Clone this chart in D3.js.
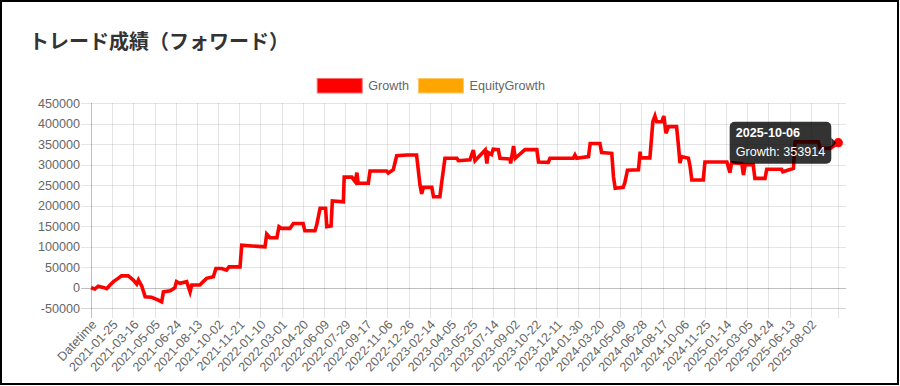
<!DOCTYPE html>
<html>
<head>
<meta charset="utf-8">
<script src="https://cdn.jsdelivr.net/npm/d3@7/dist/d3.min.js"></script>
<style>
    body { margin: 0; background: #fff; }
    svg { display: block; font-family: "Liberation Sans", Arial, sans-serif; }
    .title { font-family: "Noto Sans CJK JP", sans-serif; font-weight: bold; font-size: 20px; fill: #333; }
    .tick-label { font-size: 12.6px; fill: #666; }
    .legend-label { font-size: 12.6px; fill: #666; }
</style>
</head>
<body>
<svg id="chart" width="900" height="386"></svg>
<script>

var chartTitle = 'トレード成績（フォワード）';

// x labels shown by the chart (every 50th category)
var tickLabels = ['Datetime', '2021-01-25', '2021-03-16', '2021-05-05', '2021-06-24', '2021-08-13',
    '2021-10-02', '2021-11-21', '2022-01-10', '2022-03-01', '2022-04-20', '2022-06-09', '2022-07-29',
    '2022-09-17', '2022-11-06', '2022-12-26', '2023-02-14', '2023-04-05', '2023-05-25', '2023-07-14',
    '2023-09-02', '2023-10-22', '2023-12-11', '2024-01-30', '2024-03-20', '2024-05-09', '2024-06-28',
    '2024-08-17', '2024-10-06', '2024-11-25', '2025-01-14', '2025-03-05', '2025-04-24', '2025-06-13',
    '2025-08-02'];
var labelEvery = 50;

var yTicks = [-50000, 0, 50000, 100000, 150000, 200000, 250000, 300000, 350000, 400000, 450000];

var seriesNames = ['Growth', 'EquityGrowth'];
var seriesColors = ['#ff0000', '#ffa500'];

// category index of each sampled point, and the Growth value there
var pointIdx = [0, 9, 17, 29, 37, 45, 53, 64, 72, 88, 100, 108, 112, 120, 128, 143, 155, 167, 171, 187,
    198, 202, 210, 226, 234, 238, 257, 265, 273, 289, 295, 309, 320, 326, 352, 356, 380, 411, 415, 423,
    439, 444, 450, 470, 478, 501, 505, 529, 533, 541, 554, 557, 567, 570, 596, 598, 616, 624, 628, 631,
    655, 659, 698, 702, 714, 722, 746, 769, 777, 781, 785, 805, 809, 824, 828, 836, 864, 868, 895, 903,
    907, 931, 935, 938, 946, 950, 962, 966, 990, 991, 998, 1002, 1025, 1053, 1057, 1080, 1084, 1139, 1143, 1147,
    1175, 1179, 1202, 1206, 1230, 1234, 1238, 1257, 1261, 1267, 1293, 1297, 1298, 1320, 1327, 1332, 1336, 1348,
    1353, 1358, 1364, 1383, 1387, 1391, 1395, 1411, 1415, 1419, 1446, 1450, 1502, 1509, 1513, 1537, 1541, 1545,
    1564, 1568, 1592, 1596, 1631, 1634, 1659, 1663, 1718, 1722, 1746, 1765];
var growth = [0, -3000, 4000, 1000, -2000, 7000, 15000, 23000, 29000, 29000, 19000, 9000, 19000, 4000,
    -22000, -23000, -28000, -34000, -10000, -7000, 0, 15000, 11000, 15000, -10000, 7000, 7000, 15000, 23000,
    27000, 47000, 47000, 43000, 51000, 51000, 104000, 102000, 100000, 131000, 122000, 122000, 149000, 145000,
    145000, 157000, 157000, 139000, 139000, 153000, 194000, 194000, 149000, 151000, 212000, 210000, 270000,
    270000, 259000, 281000, 255000, 255000, 285000, 285000, 280000, 288000, 322000, 324000, 324000, 251000,
    229000, 245000, 245000, 222000, 222000, 255000, 316000, 316000, 310000, 312000, 336000, 310000, 336000,
    303000, 330000, 325000, 338000, 337000, 316000, 314000, 303000, 346000, 316000, 337000, 337000, 307000,
    306000, 316000, 316000, 324000, 316000, 320000, 352000, 352000, 330000, 328000, 271000, 243000, 245000,
    257000, 287000, 288000, 332000, 317000, 317000, 405000, 419000, 405000, 405000, 419000, 377000, 393000,
    393000, 352000, 304000, 320000, 316000, 296000, 263000, 263000, 307000, 307000, 281000, 305000, 303000,
    275000, 300000, 300000, 267000, 267000, 289000, 289000, 283000, 291000, 356000, 356000, 340000, 340000,
    353914];

var hoverDate = '2025-10-06';

var svg = d3.select('#chart');

var lastIdx = pointIdx[pointIdx.length - 1];

var x = d3.scaleLinear()
    .domain([0, lastIdx])
    .range([91, 838.3]);

var y = d3.scaleLinear()
    .domain([-50000, 450000])
    .range([308.3, 103.3]);

var plotRight = 846;

// outer frame
svg.append('rect')
    .attr('x', 1).attr('y', 1)
    .attr('width', 897).attr('height', 383)
    .attr('fill', 'none')
    .attr('stroke', '#000')
    .attr('stroke-width', 2);

svg.append('text')
    .attr('class', 'title')
    .attr('x', 29)
    .attr('y', 49)
    .text(chartTitle);

// legend
var legendX = 316.7;
seriesNames.forEach(function(name, i) {
    svg.append('rect')
        .attr('x', legendX + 0.5)
        .attr('y', 78.5)
        .attr('width', 45)
        .attr('height', 14.5)
        .attr('fill', seriesColors[i])
        .attr('stroke', i == 0 ? '#ff6b6b' : '#ffc766')
        .attr('stroke-width', 1);
    var t = svg.append('text')
        .attr('class', 'legend-label')
        .attr('x', legendX + 51.6)
        .attr('y', 86)
        .attr('dy', '0.35em')
        .text(name);
    legendX = legendX + 51.6 + t.node().getComputedTextLength() + 9;
});

// horizontal grid lines
svg.append('g')
    .selectAll('line')
    .data(yTicks)
    .enter()
    .append('line')
    .attr('x1', 81)
    .attr('x2', plotRight)
    .attr('y1', function(d) { return Math.round(y(d)) + 0.5; })
    .attr('y2', function(d) { return Math.round(y(d)) + 0.5; })
    .style('stroke', function(d) { return d == 0 ? 'rgba(0,0,0,0.25)' : (d == -50000 ? 'rgba(0,0,0,0.17)' : 'rgba(0,0,0,0.1)'); })
    .style('stroke-width', 1);

// vertical grid lines, one per shown label plus the last category
var xGrid = tickLabels.map(function(d, i) { return i * labelEvery; });
xGrid.push(lastIdx);

svg.append('g')
    .selectAll('line')
    .data(xGrid)
    .enter()
    .append('line')
    .attr('x1', function(d) { return Math.round(x(d)) + 0.5; })
    .attr('x2', function(d) { return Math.round(x(d)) + 0.5; })
    .attr('y1', 103)
    .attr('y2', 318)
    .style('stroke', function(d) { return d == 0 ? 'rgba(0,0,0,0.25)' : 'rgba(0,0,0,0.1)'; })
    .style('stroke-width', 1);

// y tick labels
svg.append('g')
    .selectAll('text')
    .data(yTicks)
    .enter()
    .append('text')
    .attr('class', 'tick-label')
    .attr('x', 80)
    .attr('y', function(d) { return y(d); })
    .attr('dy', '0.35em')
    .attr('text-anchor', 'end')
    .text(function(d) { return d; });

// x tick labels, rotated
svg.append('g')
    .selectAll('text')
    .data(tickLabels)
    .enter()
    .append('text')
    .attr('class', 'tick-label')
    .attr('text-anchor', 'end')
    .attr('dy', '0.35em')
    .attr('transform', function(d, i) {
        return 'translate(' + (x(i * labelEvery) + 3) + ',322) rotate(-47)';
    })
    .text(function(d) { return d; });

// Growth line
var points = pointIdx.map(function(d, i) { return [d, growth[i]]; });

var line = d3.line()
    .x(function(d) { return x(d[0]); })
    .y(function(d) { return y(d[1]); });

svg.append('path')
    .datum(points)
    .attr('d', line)
    .attr('fill', 'none')
    .style('stroke', seriesColors[0])
    .style('stroke-width', 3.6)
    .style('stroke-linejoin', 'miter');

// hovered point
var last = points[points.length - 1];
var px = x(last[0]), py = y(last[1]);

svg.append('circle')
    .attr('cx', px)
    .attr('cy', py)
    .attr('r', 4.6)
    .attr('fill', seriesColors[0]);

// tooltip
var tip = svg.append('g');
var bodyText = seriesNames[0] + ': ' + last[1];

var tTitle = tip.append('text')
    .attr('x', 0).attr('y', 0)
    .style('font-size', '12.6px')
    .style('font-weight', 'bold')
    .style('fill', '#fff')
    .text(hoverDate);
var tBody = tip.append('text')
    .attr('x', 0).attr('y', 0)
    .style('font-size', '12.6px')
    .style('fill', '#fff')
    .text(bodyText);

var boxW = Math.max(tTitle.node().getComputedTextLength(), tBody.node().getComputedTextLength()) + 12;
var boxH = 42;
var boxR = px - 7;
var boxL = boxR - boxW;
var boxT = py - boxH / 2;

tip.insert('path', 'text')
    .attr('d', 'M' + boxR + ',' + (py - 5) + 'L' + (boxR + 5) + ',' + py + 'L' + boxR + ',' + (py + 5) + 'Z')
    .attr('fill', 'rgba(0,0,0,0.8)');
tip.insert('rect', 'text')
    .attr('x', boxL)
    .attr('y', boxT)
    .attr('width', boxW)
    .attr('height', boxH)
    .attr('rx', 5)
    .attr('fill', 'rgba(0,0,0,0.8)');

tTitle.attr('x', boxL + 6).attr('y', boxT + 11).attr('dy', '0.35em');
tBody.attr('x', boxL + 6).attr('y', boxT + 30).attr('dy', '0.35em');

</script>
</body>
</html>
